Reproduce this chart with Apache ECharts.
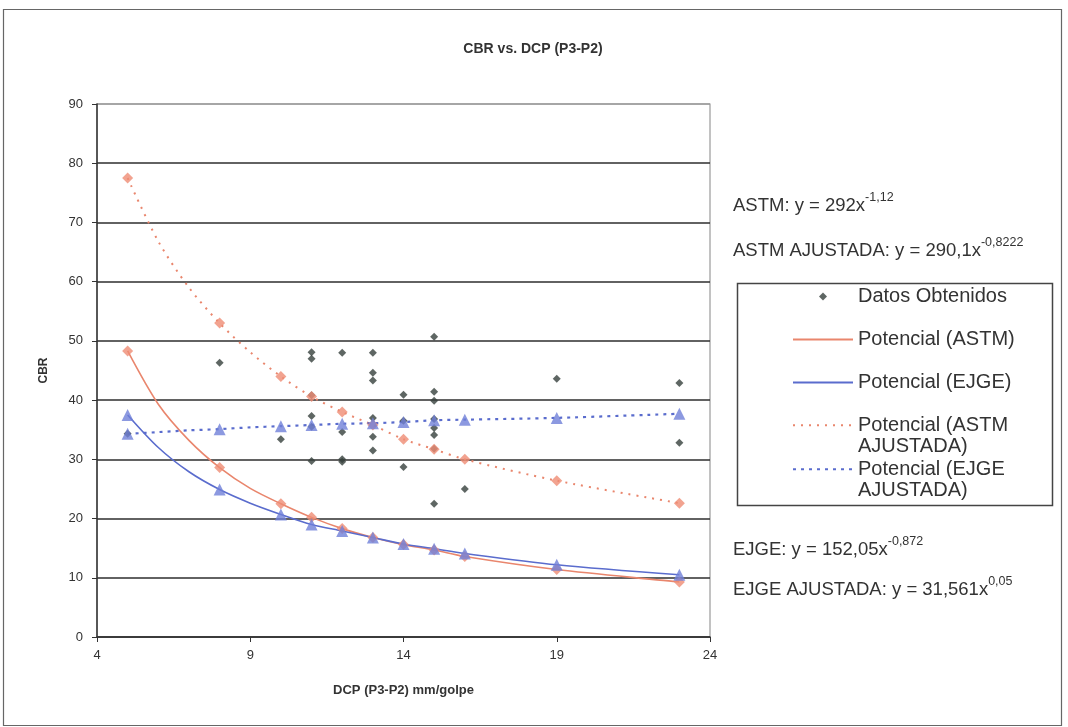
<!DOCTYPE html>
<html>
<head>
<meta charset="utf-8">
<script src="https://cdn.jsdelivr.net/npm/echarts@6/dist/echarts.min.js"></script>
<style>
html,body{margin:0;padding:0;background:#fff;}
#chart{width:1068px;height:727px;}
</style>
</head>
<body>
<div id="chart"></div>
<script>
// ---- data ----
// markers on the four trend curves
const trendX = [5, 8, 10, 11, 12, 13, 14, 15, 16, 19, 23];
const astm   = [48.3, 28.6, 22.5, 20.2, 18.3, 16.8, 15.6, 14.7, 13.6, 11.4, 9.3];
const ejge   = [37.5, 24.9, 20.7, 19.0, 17.9, 16.8, 15.7, 14.9, 14.1, 12.2, 10.5];
const astmAj = [77.5, 53.0, 44.0, 40.6, 38.0, 35.8, 33.4, 31.7, 30.0, 26.4, 22.6];
const ejgeAj = [34.3, 35.1, 35.6, 35.8, 36.0, 36.1, 36.3, 36.6, 36.7, 37.0, 37.7];
// curve readings (markers plus readings between them where the curves bend)
const curveX      = [5, 6, 7, 8, 9, 10, 11, 12, 13, 14, 15, 16, 19, 23];
const astmCurve   = [48.3, 39.3, 33.2, 28.6, 25.1, 22.5, 20.2, 18.3, 16.8, 15.6, 14.7, 13.6, 11.4, 9.3];
const ejgeCurve   = [37.5, 32.0, 27.9, 24.9, 22.6, 20.7, 19.0, 17.9, 16.8, 15.7, 14.9, 14.1, 12.2, 10.5];
const astmAjCurve = [77.5, 66.8, 59.0, 53.0, 48.1, 44.0, 40.6, 38.0, 35.8, 33.4, 31.7, 30.0, 26.4, 22.6];
const ejgeAjCurve = [34.3, 34.6, 34.9, 35.1, 35.4, 35.6, 35.8, 36.0, 36.1, 36.3, 36.6, 36.7, 37.0, 37.7];

// measured points
const obsX = [5, 8, 10, 11, 11, 11, 11, 11, 11, 12, 12, 12, 12, 13, 13, 13, 13, 13, 13, 14, 14, 14,
              15, 15, 15, 15, 15, 15, 15, 15, 16, 19, 23, 23];
const obsY = [34.3, 46.3, 33.4, 48.1, 47.0, 40.8, 37.3, 35.5, 29.7, 48.0, 34.6, 30.0, 29.6,
              48.0, 44.6, 43.3, 37.0, 33.8, 31.5, 40.9, 36.5, 28.7,
              50.7, 41.4, 39.9, 36.8, 35.3, 34.1, 31.8, 22.5, 25.0, 43.6, 42.9, 32.8];

const xTicks = [4, 9, 14, 19, 24];
const yTicks = [0, 10, 20, 30, 40, 50, 60, 70, 80, 90];

const names = ['Datos Obtenidos', 'Potencial (ASTM)', 'Potencial (EJGE)',
               'Potencial (ASTM AJUSTADA)', 'Potencial (EJGE AJUSTADA)'];
const equations = [
  ['ASTM: y = 292x', '-1,12'],
  ['ASTM AJUSTADA: y = 290,1x', '-0,8222'],
  ['EJGE: y = 152,05x', '-0,872'],
  ['EJGE AJUSTADA: y = 31,561x', '0,05']
];

// ---- build ----
const pairs = (xs, ys) => xs.map((x, i) => [x, ys[i]]);
const ORANGE = '#e9866d', ORANGE_M = '#ef8c74';
const BLUE = '#5a6ccd', BLUE_M = '#6f80d8';
const DARK = '#36403c';
const FONT = "'Liberation Sans', Arial, sans-serif";

const chart = echarts.init(document.getElementById('chart'), null, {renderer: 'canvas'});

function eqText(i, x, y) {
  return {
    type: 'text', left: x, top: y, z: 10,
    style: {
      text: '{n|' + equations[i][0] + '}{s|' + equations[i][1] + '}',
      rich: {
        n: {fontFamily: FONT, fontSize: 18.5, fill: '#333', lineHeight: 24, verticalAlign: 'bottom'},
        s: {fontFamily: FONT, fontSize: 12.5, fill: '#333', lineHeight: 24, verticalAlign: 'top', padding: [0, 0, 11, 0]}
      }
    }
  };
}

const legendText = {fontFamily: FONT, fontSize: 20, color: '#333'};
const hideSym = {opacity: 0};
function twoLineLegend(name, top) {
  return {
    data: [{name: name, itemStyle: hideSym}],
    orient: 'vertical', left: 792, top: top, itemWidth: 60, itemHeight: 8,
    padding: 0, selectedMode: false,
    formatter: n => '\n' + n.replace(' AJUSTADA', '\nAJUSTADA'),
    textStyle: Object.assign({lineHeight: 21.5}, legendText)
  };
}

const option = {
  animation: false,
  backgroundColor: '#fff',
  title: {
    text: 'CBR vs. DCP (P3-P2)',
    left: 528, top: 37, textAlign: 'center',
    textStyle: {fontFamily: "'Liberation Sans Narrow', 'Liberation Sans', Arial", fontSize: 14, fontWeight: 'bold', color: '#333'}
  },
  grid: {left: 97, right: 358, top: 104, bottom: 90, show: true, borderColor: '#9a9a9a', borderWidth: 1.2, containLabel: false},
  legend: [
    {
      data: [
        {name: names[0], icon: 'path://M4,0L8,4L4,8L0,4Z'},
        {name: names[1], itemStyle: hideSym},
        {name: names[2], itemStyle: hideSym}
      ],
      symbolKeepAspect: true,
      orient: 'vertical', left: 792, top: 286, itemWidth: 60, itemHeight: 8, itemGap: 22,
      padding: 0, selectedMode: false,
      textStyle: Object.assign({lineHeight: 21}, legendText)
    },
    twoLineLegend(names[3], 393),
    twoLineLegend(names[4], 437)
  ],
  xAxis: {
    type: 'value', min: xTicks[0], max: xTicks[xTicks.length - 1], interval: 5,
    name: 'DCP (P3-P2) mm/golpe', nameLocation: 'middle', nameGap: 47,
    nameTextStyle: {fontFamily: FONT, fontSize: 13, fontWeight: 'bold', color: '#333'},
    axisLine: {lineStyle: {color: '#333', width: 1.5}},
    axisTick: {show: true, inside: false, length: 5, lineStyle: {color: '#333'}},
    axisLabel: {fontFamily: FONT, fontSize: 13, color: '#333', margin: 12},
    splitLine: {show: false}
  },
  yAxis: {
    type: 'value', min: yTicks[0], max: yTicks[yTicks.length - 1], interval: 10,
    name: 'CBR', nameLocation: 'middle', nameGap: 47, nameRotate: 90,
    nameTextStyle: {fontFamily: FONT, fontSize: 12, fontWeight: 'bold', color: '#333'},
    axisLine: {lineStyle: {color: '#333', width: 1.5}},
    axisTick: {show: true, inside: false, length: 5, lineStyle: {color: '#333'}},
    axisLabel: {fontFamily: FONT, fontSize: 13, color: '#333', margin: 14},
    splitLine: {show: true, lineStyle: {color: ['#2e2e2e','#2e2e2e','#2e2e2e','#2e2e2e','#2e2e2e','#2e2e2e','#2e2e2e','#2e2e2e','#2e2e2e','#9a9a9a'], width: 1.5}}
  },
  graphic: [
    {type: 'rect', shape: {x: 3.5, y: 9.5, width: 1058, height: 716}, style: {fill: 'none', stroke: '#666', lineWidth: 1.2}, z: -1},
    {type: 'rect', shape: {x: 737.5, y: 283.5, width: 315, height: 222}, style: {fill: 'none', stroke: '#444', lineWidth: 1.5}},
    eqText(0, 733, 191),
    eqText(1, 733, 236),
    eqText(2, 733, 535),
    eqText(3, 733, 575)
  ],
  series: [
    {name: names[0], type: 'scatter', data: pairs(obsX, obsY), symbol: 'diamond', symbolSize: 8,
     itemStyle: {color: DARK}, z: 3},
    {name: names[1], type: 'line', data: pairs(curveX, astmCurve), smooth: 0.3, symbol: 'none',
     lineStyle: {color: ORANGE, width: 1.6}, itemStyle: {color: ORANGE}, z: 2},
    {name: names[2], type: 'line', data: pairs(curveX, ejgeCurve), smooth: 0.3, symbol: 'none',
     lineStyle: {color: BLUE, width: 1.6}, itemStyle: {color: BLUE}, z: 2},
    {name: names[3], type: 'line', data: pairs(curveX, astmAjCurve), smooth: 0.3, symbol: 'none',
     lineStyle: {color: ORANGE, width: 2, type: [2, 6]}, itemStyle: {color: ORANGE}, z: 2},
    {name: names[4], type: 'line', data: pairs(curveX, ejgeAjCurve), smooth: 0.3, symbol: 'none',
     lineStyle: {color: BLUE, width: 2.2, type: [3, 5]}, itemStyle: {color: BLUE}, z: 2},
    {name: 'm1', type: 'scatter', data: pairs(trendX, astm), symbol: 'diamond', symbolSize: 11, itemStyle: {color: ORANGE_M}, z: 4},
    {name: 'm2', type: 'scatter', data: pairs(trendX, ejge), symbol: 'triangle', symbolSize: 12, itemStyle: {color: BLUE_M}, z: 4},
    {name: 'm3', type: 'scatter', data: pairs(trendX, astmAj), symbol: 'diamond', symbolSize: 11, itemStyle: {color: ORANGE_M}, z: 4},
    {name: 'm4', type: 'scatter', data: pairs(trendX, ejgeAj), symbol: 'triangle', symbolSize: 12, itemStyle: {color: BLUE_M}, z: 4}
  ]
};
chart.setOption(option);
</script>
</body>
</html>
